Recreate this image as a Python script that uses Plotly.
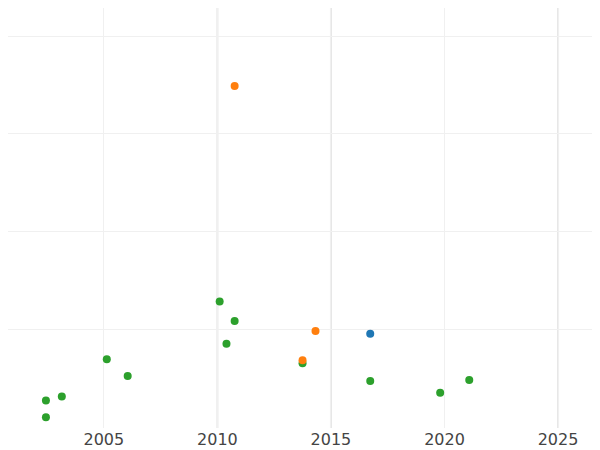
import plotly.graph_objects as go

green_x = [2010.10, 2010.76, 2010.40, 2005.13, 2013.75, 2006.05, 2016.73, 2021.09, 2019.81, 2003.15, 2002.45, 2002.45]
green_y = [1.29, 1.09, 0.86, 0.70, 0.66, 0.53, 0.48, 0.49, 0.36, 0.32, 0.28, 0.11]
orange_x = [2010.76, 2014.32, 2013.75]
orange_y = [3.49, 0.99, 0.69]
blue_x = [2016.73]
blue_y = [0.96]

fig = go.Figure()
for xs, ys, c in [(green_x, green_y, "#2ca02c"), (orange_x, orange_y, "#ff7f0e"), (blue_x, blue_y, "#1f77b4")]:
    fig.add_trace(go.Scatter(x=xs, y=ys, mode="markers", marker=dict(color=c, size=8), showlegend=False))

for v in [2010, 2015, 2025]:
    fig.add_vline(x=v, line=dict(color="#e6e6e6", width=2), layer="below")

fig.update_layout(
    width=600, height=450, margin=dict(l=0, r=0, t=0, b=30),
    plot_bgcolor="white", paper_bgcolor="white",
    font=dict(family="DejaVu Sans", size=16, color="#444"),
    xaxis=dict(range=[2000.78, 2027.2], tickvals=[2005, 2010, 2015, 2020, 2025],
               showgrid=True, gridcolor="#f0f0f0", gridwidth=1, zeroline=False, showline=False),
    yaxis=dict(range=[-0.001, 4.286], tickvals=[1, 2, 3, 4], showticklabels=False,
               showgrid=True, gridcolor="#f0f0f0", zeroline=False),
)
fig.write_html("out.html")
